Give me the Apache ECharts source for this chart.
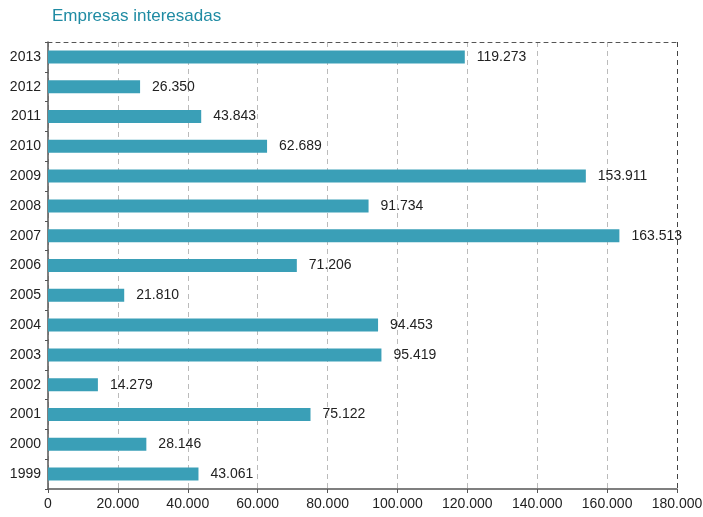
<!DOCTYPE html>
<html><head><meta charset="utf-8">
<script src="https://cdn.jsdelivr.net/npm/echarts@6/dist/echarts.min.js"></script>
<style>html,body{margin:0;padding:0;background:#fff}#c{width:703px;height:517px}</style>
</head><body><div id="c"></div>
<script>
const categories = ['1999','2000','2001','2002','2003','2004','2005','2006','2007','2008','2009','2010','2011','2012','2013'];
const values = [43061,28146,75122,14279,95419,94453,21810,71206,163513,91734,153911,62689,43843,26350,119273];
const xTicks = [0,20000,40000,60000,80000,100000,120000,140000,160000,180000];
const titleText = 'Empresas interesadas';

const fmt = v => v === 0 ? '0' : Math.floor(v/1000) + '.' + String(v%1000).padStart(3,'0');
const font = 'Liberation Sans, Arial, sans-serif';
const chart = echarts.init(document.getElementById('c'));
chart.setOption({
  animation: false,
  title: { text: titleText, left: 47, top: 3, textStyle: { color: '#1f8ba3', fontSize: 17, fontWeight: 'normal', fontFamily: font } },
  grid: { left: 48, right: 26, top: 42, bottom: 28, containLabel: false, outerBoundsMode: 'none' },
  xAxis: [{
    type: 'value', min: xTicks[0], max: xTicks[xTicks.length-1], interval: 20000,
    axisLine: { show: true, lineStyle: { color: '#555', width: 1.5 } },
    axisTick: { show: true, length: 4, lineStyle: { color: '#555' } },
    axisLabel: { color: '#222', fontSize: 14, fontFamily: font, margin: 8, formatter: fmt },
    splitLine: { show: true, lineStyle: { type: [5,4], color: ['#bbb','#bbb','#bbb','#bbb','#bbb','#bbb','#bbb','#bbb','#bbb','#444'] } }
  },{
    type: 'value', position: 'top', min: xTicks[0], max: xTicks[xTicks.length-1], interval: 20000,
    axisLine: { show: true, lineStyle: { color: '#555', type: [4,4] } },
    axisTick: { show: false }, axisLabel: { show: false }, splitLine: { show: false }
  }],
  yAxis: {
    type: 'category', data: categories,
    axisLine: { show: true, lineStyle: { color: '#555', width: 1.5 } },
    axisTick: { show: true, length: 3, lineStyle: { color: '#555' } },
    axisLabel: { color: '#222', fontSize: 14, fontFamily: font, margin: 7 }
  },
  series: [{
    type: 'bar', data: values, barWidth: 13, xAxisIndex: 0,
    itemStyle: { color: '#3a9fb7' },
    label: { show: true, position: 'right', distance: 12, color: '#222', fontSize: 14, fontFamily: font, formatter: p => fmt(p.value) }
  }]
});
</script></body></html>
